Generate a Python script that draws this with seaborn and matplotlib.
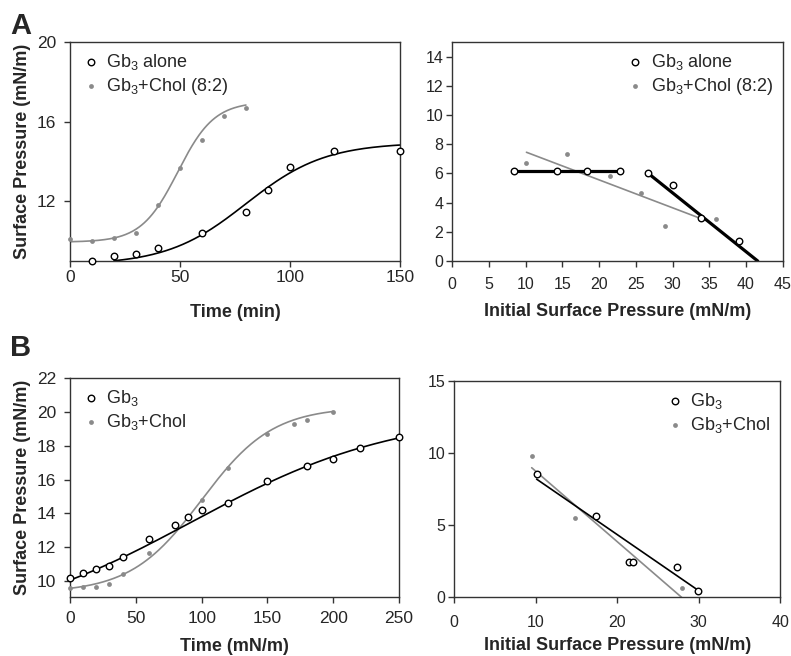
"""
Gb3 monolayer adsorption kinetics and maximal insertion plots (panels A and B).
"""

import numpy as np
import pandas as pd
import seaborn as sns
import matplotlib.pyplot as plt

# ---- Panel A, kinetics (time in min, surface pressure mN/m)
a_time_gb3 = [10, 20, 30, 40, 60, 80, 90, 100, 120, 150]
a_pi_gb3 = [9.0, 9.27, 9.35, 9.67, 10.4, 11.48, 12.59, 13.7, 14.52, 14.52]
a_time_chol = [0, 10, 20, 30, 40, 50, 60, 70, 80]
a_pi_chol = [10.12, 9.99, 10.18, 10.39, 11.8, 13.69, 15.1, 16.3, 16.7]
# sigmoid fit parameters: base, span, x0, slope, x-range
a_fit_gb3 = (8.8, 6.15, 80, 18, 20, 150)
a_fit_chol = (9.95, 7.05, 49, 8.3, 0, 80)

# ---- Panel A, insertion (initial pressure vs delta pressure)
a_ini_gb3 = [8.4, 14.2, 18.4, 22.8, 26.7, 30.1, 33.9, 39.05]
a_dpi_gb3 = [6.2, 6.2, 6.2, 6.2, 6.0, 5.19, 2.96, 1.39]
a_ini_chol = [10.1, 15.6, 18.4, 21.5, 25.7, 29.0, 35.9]
a_dpi_chol = [6.69, 7.33, 6.1, 5.8, 4.69, 2.39, 2.89]
a_line_flat = ([8.4, 22.8], [6.2, 6.2])
a_line_steep = ([26.7, 41.6], [6.0, 0.0])
a_line_chol = ([10.1, 33.9], [7.45, 2.9])

# ---- Panel B, kinetics
b_time_gb3 = [0, 10, 20, 30, 40, 60, 80, 90, 100, 120, 150, 180, 200, 220, 250]
b_pi_gb3 = [10.15, 10.5, 10.7, 10.9, 11.4, 12.5, 13.3, 13.8, 14.2, 14.6, 15.9, 16.8, 17.2, 17.9, 18.5]
b_time_chol = [0, 10, 20, 30, 40, 60, 100, 120, 150, 170, 180, 200]
b_pi_chol = [9.57, 9.66, 9.62, 9.8, 10.43, 11.66, 14.8, 16.7, 18.68, 19.28, 19.55, 20.0]
b_fit_gb3 = (7.0, 13.0, 92.5, 78.2, 0, 250)
b_fit_chol = (9.3, 11.0, 100, 27, 0, 200)

# ---- Panel B, insertion
b_ini_gb3 = [10.1, 17.34, 21.5, 21.9, 27.3, 29.86]
b_dpi_gb3 = [8.53, 5.66, 2.47, 2.47, 2.08, 0.46]
b_ini_chol = [9.5, 14.8, 28.0]
b_dpi_chol = [9.8, 5.48, 0.67]
b_line_gb3 = ([10.1, 29.9], [8.2, 0.5])
b_line_chol = ([9.5, 27.9], [8.99, 0.0])

GREY = '#8a8a8a'

sns.set_theme(style='white')
plt.rcParams['font.family'] = ['Liberation Sans', 'DejaVu Sans']
plt.rcParams['mathtext.default'] = 'regular'

fig = plt.figure(figsize=(7.91, 6.56), dpi=100)
axA1 = fig.add_axes([0.0885, 0.6021, 0.417, 0.3338])
axA2 = fig.add_axes([0.5718, 0.6021, 0.4177, 0.3338])
axB1 = fig.add_axes([0.0885, 0.0904, 0.416, 0.333])
axB2 = fig.add_axes([0.5743, 0.0894, 0.4121, 0.3297])


def sigmoid_curve(ax, fit, color):
    base, span, x0, s, lo, hi = fit
    xx = np.linspace(lo, hi, 200)
    yy = base + span / (1 + np.exp(-(xx - x0) / s))
    sns.lineplot(x=xx, y=yy, ax=ax, color=color, lw=1.2, zorder=2)


def open_pts(ax, x, y, label):
    sns.scatterplot(x=x, y=y, ax=ax, marker='o', s=22, facecolors='white',
                    edgecolor='black', linewidth=1.0, label=label, zorder=4,
                    clip_on=False)


def grey_pts(ax, x, y, label):
    sns.scatterplot(x=x, y=y, ax=ax, marker='o', s=12, color=GREY,
                    edgecolor=GREY, linewidth=0, label=label, zorder=3,
                    clip_on=False)


# A left
sigmoid_curve(axA1, a_fit_chol, GREY)
sigmoid_curve(axA1, a_fit_gb3, 'black')
open_pts(axA1, a_time_gb3, a_pi_gb3, 'Gb$_3$ alone')
grey_pts(axA1, a_time_chol, a_pi_chol, 'Gb$_3$+Chol (8:2)')
axA1.set_xlim(0, 150)
axA1.set_ylim(9, 20)
axA1.set_xticks([0, 50, 100, 150])
axA1.set_yticks([12, 16, 20])
axA1.set_xlabel('Time (min)')
axA1.set_ylabel('Surface Pressure (mN/m)')

# A right
sns.lineplot(x=a_line_chol[0], y=a_line_chol[1], ax=axA2, color=GREY, lw=1.2)
sns.lineplot(x=a_line_flat[0], y=a_line_flat[1], ax=axA2, color='black', lw=2.3)
sns.lineplot(x=a_line_steep[0], y=a_line_steep[1], ax=axA2, color='black', lw=2.3)
open_pts(axA2, a_ini_gb3, a_dpi_gb3, 'Gb$_3$ alone')
grey_pts(axA2, a_ini_chol, a_dpi_chol, 'Gb$_3$+Chol (8:2)')
axA2.set_xlim(0, 45)
axA2.set_ylim(0, 15)
axA2.set_xticks(range(0, 46, 5))
axA2.set_yticks(range(0, 15, 2))
axA2.set_xlabel('Initial Surface Pressure (mN/m)')

# B left
sigmoid_curve(axB1, b_fit_chol, GREY)
sigmoid_curve(axB1, b_fit_gb3, 'black')
open_pts(axB1, b_time_gb3, b_pi_gb3, 'Gb$_3$')
grey_pts(axB1, b_time_chol, b_pi_chol, 'Gb$_3$+Chol')
axB1.set_xlim(0, 250)
axB1.set_ylim(9.07, 22)
axB1.set_xticks(range(0, 251, 50))
axB1.set_yticks(range(10, 23, 2))
axB1.set_xlabel('Time (mN/m)')
axB1.set_ylabel('Surface Pressure (mN/m)')

# B right
sns.lineplot(x=b_line_chol[0], y=b_line_chol[1], ax=axB2, color=GREY, lw=1.2)
sns.lineplot(x=b_line_gb3[0], y=b_line_gb3[1], ax=axB2, color='black', lw=1.2)
open_pts(axB2, b_ini_gb3, b_dpi_gb3, 'Gb$_3$')
grey_pts(axB2, b_ini_chol, b_dpi_chol, 'Gb$_3$+Chol')
axB2.set_xlim(0, 40)
axB2.set_ylim(0, 15)
axB2.set_xticks(range(0, 41, 10))
axB2.set_yticks([0, 5, 10, 15])
axB2.set_xlabel('Initial Surface Pressure (mN/m)')

for ax in (axA1, axA2, axB1, axB2):
    for sp in ax.spines.values():
        sp.set_color('#333333')
        sp.set_linewidth(1.0)
    ax.xaxis.label.set_fontweight('bold')
    ax.yaxis.label.set_fontweight('bold')
    ax.xaxis.label.set_fontsize(13)
    ax.yaxis.label.set_fontsize(13)
    ax.tick_params(axis='both', direction='out', length=4.5, width=1,
                   color='#333333', bottom=True, left=True)

for ax in (axA1, axB1):
    ax.tick_params(axis='both', labelsize=12.5)
    ax.tick_params(axis='y', pad=5.5)
    ax.legend(loc='upper left', frameon=False, fontsize=13, handletextpad=0.25,
              borderaxespad=0.15, labelspacing=0.2, handlelength=1.2)
    ax.yaxis.labelpad = 4

for ax in (axA2, axB2):
    ax.tick_params(axis='both', labelsize=11.5)
    ax.tick_params(axis='y', pad=2)
    ax.legend(loc='upper right', frameon=False, fontsize=13, handletextpad=0.25,
              borderaxespad=0.15, labelspacing=0.2, handlelength=1.2)

axA1.tick_params(axis='x', pad=2)
axB1.tick_params(axis='x', pad=6)
axA2.tick_params(axis='x', pad=7)
axB2.tick_params(axis='x', pad=8)

axA1.xaxis.labelpad = 14
axA2.xaxis.labelpad = 8
axB1.xaxis.labelpad = 8.5
axB2.xaxis.labelpad = 5.5

fig.text(0.013, 0.948, 'A', fontsize=21, fontweight='bold')
fig.text(0.013, 0.458, 'B', fontsize=21, fontweight='bold')

fig.savefig('out.png', dpi=100)
